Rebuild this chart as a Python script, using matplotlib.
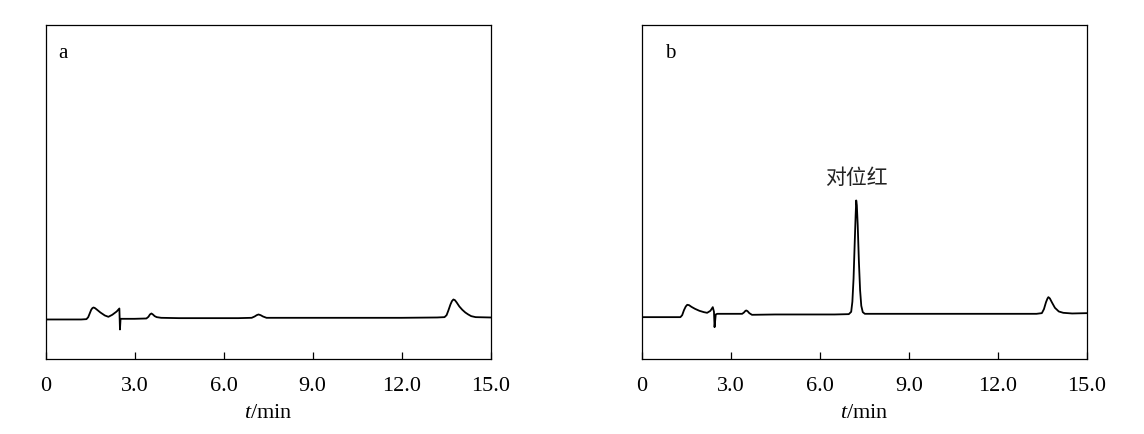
import matplotlib
matplotlib.use("Agg")
import matplotlib.pyplot as plt

plt.rcParams['font.family'] = ['Liberation Serif', 'DejaVu Serif']
plt.rcParams['mathtext.fontset'] = 'custom'
plt.rcParams['mathtext.rm'] = 'Liberation Serif'
plt.rcParams['mathtext.it'] = 'Liberation Serif:italic'

# chromatogram a (blank) - time in min, signal in arbitrary units
t_a = [0, 1.2, 1.38, 1.44, 1.49, 1.54, 1.58, 1.62, 1.67, 1.74, 1.85, 2.0, 2.12,
       2.25, 2.4, 2.49, 2.51, 2.53, 2.6, 3.0, 3.4, 3.47, 3.52, 3.57, 3.62, 3.68,
       3.75, 3.9, 4.5, 5.5, 6.5, 6.95, 7.05, 7.12, 7.18, 7.25, 7.33, 7.45, 8.0,
       10.0, 12.0, 13.2, 13.45, 13.52, 13.58, 13.65, 13.70, 13.75, 13.80, 13.86,
       13.95, 14.05, 14.15, 14.25, 14.35, 14.5, 15.0]
s_a = [11.7, 11.7, 11.8, 12.4, 13.5, 14.6, 15.1, 15.3, 15.1, 14.6, 13.8, 12.9, 12.5,
       13.1, 14.1, 15.0, 8.7, 11.9, 11.9, 11.9, 12.0, 12.5, 13.2, 13.5, 13.2, 12.7,
       12.4, 12.2, 12.1, 12.1, 12.1, 12.2, 12.6, 13.0, 13.2, 13.0, 12.6, 12.2, 12.2,
       12.2, 12.2, 12.3, 12.4, 13.0, 14.4, 16.2, 17.2, 17.7, 17.5, 16.8,
       15.6, 14.6, 13.8, 13.2, 12.7, 12.4, 12.3]

# chromatogram b (sample)
t_b = [0, 1.31, 1.37, 1.43, 1.49, 1.54, 1.60, 1.68, 1.8, 1.95, 2.1, 2.21, 2.32,
       2.40, 2.44, 2.46, 2.50, 2.55, 3.0, 3.39, 3.45, 3.50, 3.53, 3.57, 3.63, 3.72,
       4.5, 5.5, 6.5, 6.98, 7.06, 7.10, 7.14, 7.18, 7.21, 7.23, 7.25, 7.28, 7.32,
       7.36, 7.40, 7.45, 7.52, 8.0, 10.0, 12.0, 13.3, 13.48, 13.55, 13.62, 13.67,
       13.70, 13.75, 13.82, 13.92, 14.05, 14.2, 14.5, 15.0]
s_b = [12.4, 12.4, 13.0, 14.5, 15.6, 16.1, 16.0, 15.5, 14.9, 14.3, 13.9, 13.7, 14.3,
       15.4, 14.0, 9.4, 13.2, 13.4, 13.4, 13.4, 13.8, 14.3, 14.4, 14.2, 13.6, 13.1,
       13.2, 13.2, 13.2, 13.3, 14.0, 17.0, 24.0, 35.0, 43.0, 47.4, 46.0, 40.0, 29.0,
       20.5, 15.8, 13.9, 13.4, 13.4, 13.4, 13.4, 13.4, 13.6, 14.8, 16.9, 18.0,
       18.4, 18.0, 16.8, 15.2, 14.1, 13.7, 13.5, 13.6]

peak_label = '对位红'
peak_time = 7.23
peak_label_y = 54

xticks = [0, 3, 6, 9, 12, 15]
xticklabels = ['0', '3.0', '6.0', '9.0', '12.0', '15.0']

fig = plt.figure(figsize=(11.44, 4.34), dpi=100)
ax_a = fig.add_axes([45.5 / 1144, 1 - 358.5 / 434, 445 / 1144, 333.5 / 434])
ax_b = fig.add_axes([641.5 / 1144, 1 - 358.5 / 434, 445.5 / 1144, 333.5 / 434])

for ax, t, s, tag, tagx in [(ax_a, t_a, s_a, 'a', 0.04), (ax_b, t_b, s_b, 'b', 0.064)]:
    ax.plot(t, s, color='black', lw=1.3)
    ax.set_xlim(0, 15)
    ax.set_ylim(0, 100)
    ax.set_yticks([])
    ax.set_xticks(xticks)
    ax.set_xticklabels(xticklabels)
    ax.tick_params(axis='x', direction='in', length=5, width=0.9, pad=13, labelsize=16)
    for sp in ax.spines.values():
        sp.set_linewidth(0.9)
    ax.set_xlabel('$t$/min', fontsize=16, labelpad=6)
    ax.text(tagx, 0.90, tag, transform=ax.transAxes, fontsize=15, va='baseline', ha='center')

ax_b.text(peak_time, peak_label_y, peak_label, ha='center', va='center', fontsize=15,
          family=['Noto Sans CJK SC', 'DejaVu Sans'], color='#222222')

fig.savefig('out.png', dpi=100)
